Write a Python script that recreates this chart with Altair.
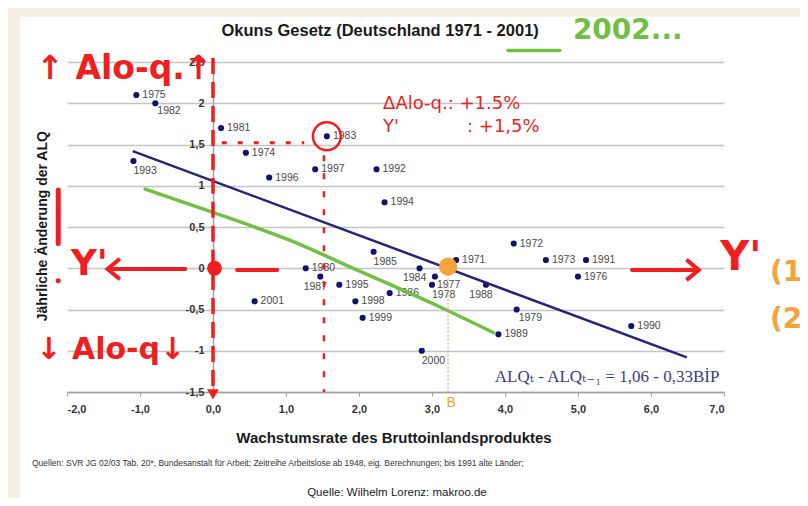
import altair as alt
import pandas as pd

# ---------------- data ----------------
years = [1971, 1972, 1973, 1974, 1975, 1976, 1977, 1978, 1979, 1980,
         1981, 1982, 1983, 1984, 1985, 1986, 1987, 1988, 1989, 1990,
         1991, 1992, 1993, 1994, 1995, 1996, 1997, 1998, 1999, 2000, 2001]
gdp_growth = [3.33, 4.12, 4.56, 0.45, -1.05, 5.00, 3.04, 3.00, 4.16, 1.27,
              0.11, -0.79, 1.56, 2.83, 2.20, 2.42, 1.47, 3.74, 3.91, 5.73,
              5.11, 2.24, -1.09, 2.35, 1.73, 0.77, 1.40, 1.95, 2.05, 2.86, 0.57]
alq_change = [0.1, 0.3, 0.1, 1.4, 2.1, -0.1, -0.1, -0.2, -0.5, 0.0,
              1.7, 2.0, 1.6, 0.0, 0.2, -0.3, -0.1, -0.2, -0.8, -0.7,
              0.1, 1.2, 1.3, 0.8, -0.2, 1.1, 1.2, -0.4, -0.6, -1.0, -0.4]
# label placement (style, not data): r = right, br = below right, b = below, bl = below left
label_side = ["r", "r", "r", "r", "r", "r", "br", "b", "br", "r",
              "r", "br", "r", "bl", "b", "r", "bl", "bl", "r", "r",
              "r", "r", "b", "r", "r", "r", "r", "r", "r", "b", "r"]

reg_x = [-1.10, 6.49]
reg_y = [1.42, -1.08]

green_x = [-0.93, -0.01, 1.05, 1.97, 3.11, 3.84]
green_y = [0.96, 0.68, 0.34, -0.02, -0.47, -0.78]

point_b = (3.22, 0.02)

x_ticks = list(range(-2, 8))
y_ticks = [-1.5, -1, -0.5, 0, 0.5, 1, 1.5, 2, 2.5]

title_text = "Okuns Gesetz (Deutschland 1971 - 2001)"
x_title = "Wachstumsrate des Bruttoinlandsproduktes"
y_title = "Jährliche Änderung der ALQ"
source_text = ("Quellen: SVR JG 02/03 Tab. 20*, Bundesanstalt für Arbeit; Zeitreihe Arbeitslose ab 1948, "
               "eig. Berechnungen; bis 1991 alte Länder;")
footer_text = "Quelle: Wilhelm Lorenz:  makroo.de"
formula_text = "ALQₜ - ALQₜ₋₁ = 1,06 - 0,33BİP"

# ---------------- styling ----------------
NAVY = "#12126a"
LINE_NAVY = "#24247a"
RED = "#f01e1e"
GREEN = "#72c043"
ORANGE = "#f5a236"
FONT = "Liberation Sans"
HAND = "DejaVu Sans"

xs = alt.Scale(domain=[-2, 7], nice=False, zero=False)
ys = alt.Scale(domain=[-1.5, 2.5], nice=False, zero=False)

x_axis = alt.Axis(values=x_ticks, title=None, grid=False,
                  labelExpr="replace(toString(datum.value), '.', ',') + ',0'",
                  labelFont=FONT, labelFontWeight="bold", labelFontSize=11, labelColor="#333333",
                  domainColor="#a0a0a0", domainWidth=1.5, tickColor="#a0a0a0", tickSize=4,
                  labelPadding=7)
y_axis = alt.Axis(values=y_ticks, title=None, grid=True, gridColor="#c4c4c4", gridWidth=1.5,
                  labelExpr="replace(toString(datum.value), '.', ',')",
                  labelFont=FONT, labelFontWeight="bold", labelFontSize=11, labelColor="#333333",
                  domainColor="#a0a0a0", domainWidth=1.5, tickSize=0, labelPadding=9,
                  offset=-146)


def X(field="x"):
    return alt.X(f"{field}:Q", scale=xs, axis=x_axis)


def Y(field="y"):
    return alt.Y(f"{field}:Q", scale=ys, axis=y_axis)


def text_layer(rows, **kw):
    df = pd.DataFrame(rows, columns=["x", "y", "t"])
    return alt.Chart(df).mark_text(**kw).encode(x=X(), y=Y(), text="t:N")


def rule_layer(rows, **kw):
    df = pd.DataFrame(rows, columns=["x", "y", "x2", "y2"])
    return alt.Chart(df).mark_rule(**kw).encode(x=X(), y=Y(), x2="x2:Q", y2="y2:Q")


def point_layer(rows, **kw):
    df = pd.DataFrame(rows, columns=["x", "y"])
    return alt.Chart(df).mark_point(**kw).encode(x=X(), y=Y())


df = pd.DataFrame({"year": years, "g": gdp_growth, "a": alq_change, "side": label_side})

layers = []

# beige frame strips (left and top)
frame = pd.DataFrame({"x": [-2.95, -2.95], "x2": [-2.64, 8.2], "y": [3.3, 3.3], "y2": [-3.0, 3.05]})
layers.append(alt.Chart(frame).mark_rect(color="#f3f0e2").encode(x=X(), x2="x2:Q", y=Y(), y2="y2:Q"))

# points
layers.append(alt.Chart(df).mark_circle(size=38, color=NAVY, opacity=1).encode(x=X("g"), y=Y("a")))

# year labels
label_styles = {"r": dict(dx=6, dy=0, align="left"),
                "br": dict(dx=2, dy=8, align="left"),
                "b": dict(dx=0, dy=10, align="left"),
                "bl": dict(dx=-5, dy=10, align="center")}
for side, st in label_styles.items():
    layers.append(alt.Chart(df).transform_filter(alt.datum.side == side).mark_text(
        font=FONT, fontSize=10.5, color="#4a4a4a", baseline="middle", **st).encode(
        x=X("g"), y=Y("a"), text="year:N"))

# regression line
layers.append(alt.Chart(pd.DataFrame({"x": reg_x, "y": reg_y})).mark_line(
    color=LINE_NAVY, strokeWidth=2.5).encode(x=X(), y=Y()))

# hand-drawn green line
layers.append(alt.Chart(pd.DataFrame({"x": green_x, "y": green_y, "o": range(len(green_x))})).mark_line(
    color=GREEN, strokeWidth=3.5, strokeCap="round", interpolate="monotone").encode(x=X(), y=Y(), order="o:Q"))

# orange point B with dotted drop line
layers.append(rule_layer([(point_b[0], point_b[1], point_b[0], -1.5)],
                         color="#e5a26a", strokeWidth=1.2, strokeDash=[2, 2]))
layers.append(point_layer([point_b], shape="circle", filled=True, size=330, color=ORANGE, opacity=1))
layers.append(text_layer([(point_b[0] - 0.02, -1.63, "B")], font=FONT, fontSize=14, color=ORANGE,
                         align="left", baseline="middle"))

# red hand-drawn annotations
layers.append(rule_layer([(0, 2.55, 0, -1.53)], color=RED, strokeWidth=3.5, strokeDash=[16, 8]))
layers.append(point_layer([(0, -1.53)], shape="triangle-down", filled=True, size=140, color=RED, opacity=1))
layers.append(rule_layer([(1.52, 1.37, 1.52, -1.5)], color=RED, strokeWidth=2.5, strokeDash=[6, 12]))
layers.append(rule_layer([(0.12, 1.52, 1.25, 1.52)], color=RED, strokeWidth=3, strokeDash=[5, 11]))
layers.append(rule_layer([(0.33, -0.02, 0.88, -0.02)], color=RED, strokeWidth=4, strokeCap="round"))
layers.append(rule_layer([(-1.41, -0.01, -0.38, -0.01)], color=RED, strokeWidth=4, strokeCap="round"))
layers.append(rule_layer([(5.74, -0.02, 6.58, -0.02)], color=RED, strokeWidth=4, strokeCap="round"))
layers.append(rule_layer([(-2.12, 0.95, -2.12, 0.30)], color=RED, strokeWidth=5, strokeCap="round"))
layers.append(point_layer([(-2.12, -0.15)], shape="circle", filled=True, size=25, color=RED, opacity=1))
layers.append(point_layer([(6.57, -0.02)], shape="M-0.6,-1L0.6,0L-0.6,1", filled=False, size=420,
                          color=RED, strokeWidth=4, opacity=1))
layers.append(point_layer([(-1.36, -0.01)], shape="M0.6,-1L-0.6,0L0.6,1", filled=False, size=420,
                          color=RED, strokeWidth=4, opacity=1))
layers.append(point_layer([(0.02, -0.0)], shape="circle", filled=True, size=220, color=RED, opacity=1))
layers.append(point_layer([(1.56, 1.6)], shape="circle", filled=False, size=780, color=RED,
                          strokeWidth=2.5, opacity=1))

hand_red = dict(font=HAND, fontWeight="bold", color=RED, align="left", baseline="middle")
layers.append(text_layer([(-2.42, 2.42, "↑ Alo-q.↑")], fontSize=33, **hand_red))
layers.append(text_layer([(-2.42, -0.99, "↓ Alo-q↓")], fontSize=30, **hand_red))
layers.append(text_layer([(-1.95, 0.05, "Y'")], fontSize=36, **hand_red))
layers.append(text_layer([(6.95, 0.12, "Y'")], fontSize=40, **hand_red))
layers.append(text_layer([(2.33, 1.99, "ΔAlo-q.: +1.5%"), (2.33, 1.71, "Y'"), (3.48, 1.71, ": +1,5%")],
                         font=HAND, fontSize=18, color=RED, align="left", baseline="middle"))

# orange (1) (2) on the right edge
layers.append(text_layer([(7.63, -0.06, "(1)"), (7.63, -0.63, "(2)")], font=HAND, fontWeight="bold",
                         fontSize=28, color=ORANGE, align="left", baseline="middle"))

# green "2002..." and underline
layers.append(text_layer([(4.93, 2.88, "2002...")], font=HAND, fontWeight="bold", fontSize=28,
                         color=GREEN, align="left", baseline="middle"))
layers.append(rule_layer([(4.04, 2.64, 4.75, 2.64)], color=GREEN, strokeWidth=3.5, strokeCap="round"))

# printed texts
layers.append(text_layer([(2.29, 2.88, title_text)], font=FONT, fontWeight="bold", fontSize=16.5,
                         color="#1a1a1a", align="center", baseline="middle"))
layers.append(text_layer([(2.48, -2.06, x_title)], font=FONT, fontWeight="bold", fontSize=15,
                         color="#1a1a1a", align="center", baseline="middle"))
layers.append(text_layer([(-2.33, 0.51, y_title)], font=FONT, fontWeight="bold", fontSize=14,
                         color="#1a1a1a", align="center", baseline="middle", angle=270))
layers.append(text_layer([(-2.48, -2.36, source_text)], font=FONT, fontSize=8.5,
                         color="#333333", align="left", baseline="middle"))
layers.append(text_layer([(2.52, -2.72, footer_text)], font=FONT, fontSize=11.5,
                         color="#222222", align="center", baseline="middle"))
layers.append(text_layer([(3.86, -1.32, formula_text)], font="Liberation Serif, DejaVu Serif", fontSize=17,
                         color="#3c3c82", align="left", baseline="middle"))

chart = alt.layer(*layers).properties(
    width=657, height=330,
    padding={"left": 59, "top": 54, "right": 76, "bottom": 106},
    autosize=alt.AutoSizeParams(type="none"),
    background="white",
).configure_view(stroke=None)

chart.save("out.html", embed_options={"renderer": "svg", "actions": False})
